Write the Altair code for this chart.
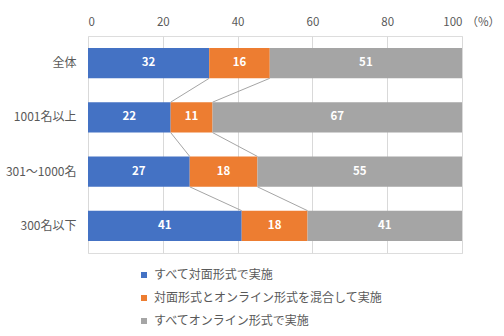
import altair as alt
import pandas as pd

categories = ["全体", "1001名以上", "301～1000名", "300名以下"]
series = ["すべて対面形式で実施", "対面形式とオンライン形式を混合して実施", "すべてオンライン形式で実施"]
face = [32.4, 22.1, 27.2, 41.1]
mixed = [16.2, 11.2, 18.1, 17.6]
online = [51.4, 66.7, 54.7, 41.3]
colors = ["#4472C4", "#ED7D31", "#A5A5A5"]
x_ticks = [0, 20, 40, 60, 80, 100]

FONT = "Noto Sans CJK JP"
TXT = "#595959"

rows = []
for i, c in enumerate(categories):
    start = 0.0
    for j, vals in enumerate([face, mixed, online]):
        v = vals[i]
        rows.append({"cat": c, "series": series[j], "idx": j, "v": v,
                     "start": start, "end": start + v, "mid": start + v / 2})
        start += v
df = pd.DataFrame(rows)

conn = []
for i in range(len(categories) - 1):
    b1a = face[i]
    b1b = face[i + 1]
    b2a = face[i] + mixed[i]
    b2b = face[i + 1] + mixed[i + 1]
    conn.append({"cat": categories[i], "cat2": categories[i + 1], "xa": b1a, "xb": b1b})
    conn.append({"cat": categories[i], "cat2": categories[i + 1], "xa": b2a, "xb": b2b})
cdf = pd.DataFrame(conn)

yscale = alt.Scale(domain=categories, paddingInner=0.44, paddingOuter=0.22)
xscale = alt.Scale(domain=[0, 100], nice=False)

bars = alt.Chart(df).mark_bar().encode(
    x=alt.X("start:Q", scale=xscale,
            axis=alt.Axis(orient="top", values=x_ticks, format="d", ticks=False, domain=False,
                          labelPadding=9, labelFontSize=11.5, labelColor=TXT, labelFont=FONT,
                          gridColor="#D9D9D9", title="（%）", titleAngle=0, titleAlign="left",
                          titleBaseline="bottom", titleX=378, titleY=-9, titleFontSize=11.5,
                          titleFontWeight="normal", titleColor=TXT, titleFont=FONT)),
    x2="end:Q",
    y=alt.Y("cat:N", scale=yscale,
            axis=alt.Axis(title=None, ticks=False, domain=False, labelPadding=12,
                          labelFontSize=12, labelColor=TXT, labelFont=FONT)),
    color=alt.Color("series:N", scale=alt.Scale(domain=series, range=colors),
                    legend=alt.Legend(title=None, orient="none", legendX=50, legendY=233,
                                      direction="vertical", symbolType="square", symbolSize=36,
                                      symbolStrokeWidth=0, labelFontSize=12, labelColor=TXT,
                                      labelFont=FONT, rowPadding=11, padding=0, labelOffset=4,
                                      labelLimit=400)),
    order=alt.Order("idx:Q"),
)

labels = alt.Chart(df).mark_text(color="white", fontSize=11.5, font=FONT, fontWeight="bold").encode(
    x=alt.X("mid:Q", scale=xscale),
    y=alt.Y("cat:N", scale=yscale),
    text=alt.Text("v:Q", format=".0f"),
)

lines = alt.Chart(cdf).mark_rule(color="#A5A5A5", strokeWidth=1).encode(
    x=alt.X("xa:Q", scale=xscale),
    x2="xb:Q",
    y=alt.Y("cat:N", scale=yscale, bandPosition=1),
    y2=alt.Y2("cat2:N", bandPosition=0),
)

chart = alt.layer(bars, lines, labels).properties(
    width=374, height=217,
    autosize=alt.AutoSizeParams(type="none"),
    padding={"left": 88, "top": 36, "right": 42, "bottom": 83},
).configure_view(stroke=None).configure(background="white")

chart.save("out.html", embed_options={"renderer": "svg", "actions": False})
